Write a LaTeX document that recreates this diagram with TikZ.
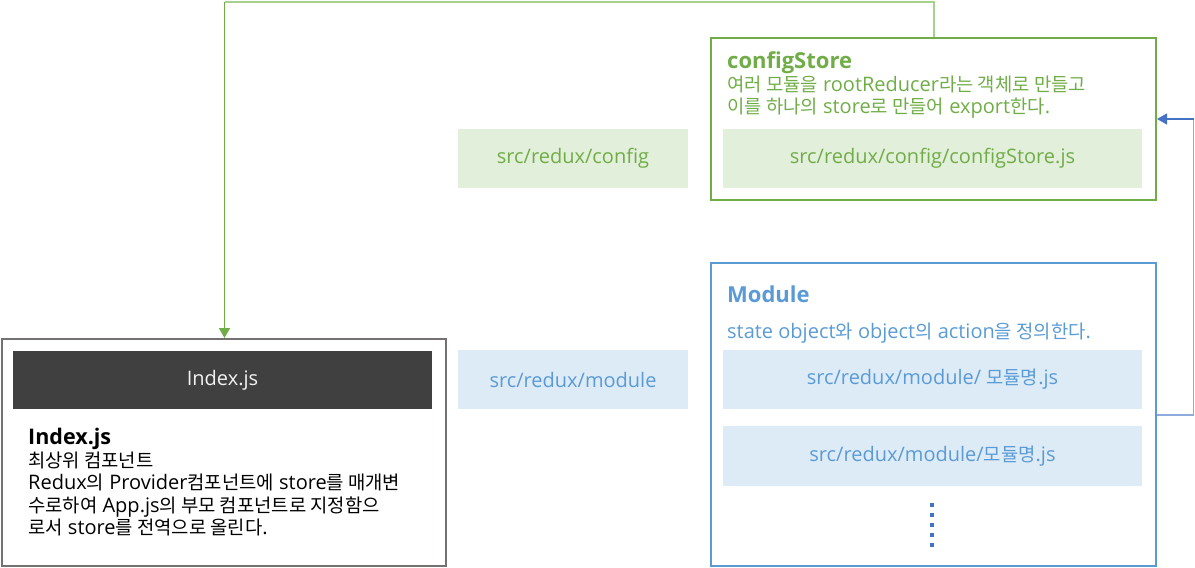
\documentclass[tikz,border=0pt]{standalone}
\usepackage{fontspec}
\setmainfont{Open Sans}
\newfontfamily\kr{Noto Sans CJK KR}[Scale=0.94]
\newcommand{\K}[1]{{\kr #1}}
\usetikzlibrary{arrows.meta}
\definecolor{grn}{HTML}{70AD47}
\definecolor{lgrn}{HTML}{A9D18E}
\definecolor{gfill}{HTML}{E2EFDA}
\definecolor{blu}{HTML}{5B9BD5}
\definecolor{dblu}{HTML}{4472C4}
\definecolor{lblu}{HTML}{8FAADC}
\definecolor{bfill}{HTML}{DDEBF7}
\definecolor{gry}{HTML}{767171}
\definecolor{dark}{HTML}{404040}
\tikzset{
  frame/.style={draw, line width=2pt, inner sep=0pt},
  filebox/.style={inner sep=0pt, minimum width=419pt, minimum height=59pt, font=\fontsize{20}{24}\selectfont},
  lblbox/.style={inner sep=0pt, minimum width=230pt, minimum height=59pt, font=\fontsize{20}{24}\selectfont},
  ttl/.style={anchor=base west, inner sep=0pt, font=\fontsize{22}{26}\selectfont\bfseries},
  body/.style={anchor=base west, inner sep=0pt, align=left, font=\fontsize{20}{22.5}\selectfont},
  tip/.style={-{Triangle[length=10pt,width=11pt]}},
}
\begin{document}
\begin{tikzpicture}[x=1pt,y=-1pt]
\useasboundingbox (0,0) rectangle (1195,568);
% configStore
\node[frame, draw=grn, minimum width=445pt, minimum height=162pt] (cfg) at (933.5,119) {};
\node[filebox, fill=gfill, text=grn] (cfgfile) at (932.5,158.5) {src/redux/config/configStore.js};
\node[lblbox, fill=gfill, text=grn] (cfglbl) at (573,158.5) {src/redux/config};
\node[ttl, text=grn] (cfgttl) at (727,68) {configStore};
\node[body, text=grn, font=\fontsize{20}{21.5}\selectfont] (cfgtxt) at (727,113) {\K{여러 모듈을} rootReducer\K{라는 객체로 만들고}\\\K{이를 하나의} store\K{로 만들어} export\K{한다}.};
% Module
\node[frame, draw=blu, minimum width=445pt, minimum height=303pt] (mod) at (933.5,414.5) {};
\node[filebox, fill=bfill, text=blu] (mod1) at (932.5,379.5) {src/redux/module/ \K{모듈명}.js};
\node[filebox, fill=bfill, text=blu, minimum height=60pt] (mod2) at (932.5,456) {src/redux/module/\K{모듈명}.js};
\node[lblbox, fill=bfill, text=blu] (modlbl) at (573,379.5) {src/redux/module};
\node[ttl, text=blu] (modttl) at (727,302) {Module};
\node[body, text=blu] (modtxt) at (727,338) {state object\K{와} object\K{의} action\K{을 정의한다}.};
\draw[dblu, line width=4pt, dash pattern=on 4pt off 6pt] (932,503) -- (932,547);
% Index
\node[frame, draw=gry, minimum width=444pt, minimum height=227pt] (idx) at (224,452.5) {};
\node[inner sep=0pt, fill=dark, text=white!95!black, minimum width=419pt, minimum height=58pt, font=\fontsize{20}{24}\selectfont] (idxbar) at (222.5,380) {Index.js};
\node[ttl, text=black, font=\fontsize{21.5}{26}\selectfont\bfseries] (idxttl) at (28,444) {Index.js};
\node[body, text=black] (idxtxt) at (28,534.5) {\K{최상위 컴포넌트}\\Redux\K{의} Provider\K{컴포넌트에} store\K{를 매개변}\\\K{수로하여} App.js\K{의 부모 컴포넌트로 지정함으}\\\K{로서} store\K{를 전역으로 올린다}.};
% connectors
\coordinate (gl) at (224.5,1.5);
\draw[lgrn, line width=2pt] (cfg.north) |- (gl);
\draw[grn, line width=1.5pt, tip] (gl) -- (gl |- idx.north);
\coordinate (bb) at (1193.5,415);
\coordinate (bt) at (1193.5,119);
\draw[lblu, line width=1.5pt] (mod.east |- bb) -- (bb) -- (bt);
\draw[dblu, line width=1.2pt, tip] (bt) -- (cfg.east |- bt);
\end{tikzpicture}
\end{document}
